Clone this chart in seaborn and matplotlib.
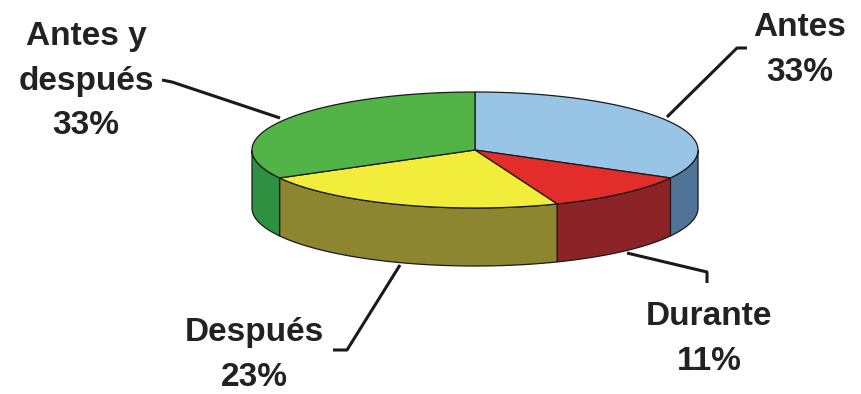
import numpy as np
import matplotlib
matplotlib.use("Agg")
import matplotlib.pyplot as plt
import seaborn as sns
from matplotlib.patches import Polygon

# ---- data ----
categories = ["Antes", "Durante", "Después", "Antes y\ndespués"]
values = [33, 11, 23, 33]
pct_labels = ["33%", "11%", "23%", "33%"]

# ---- styles ----
top_colors = ["#98C4E6", "#E32D2B", "#F2EC3A", "#52B347"]
side_colors = ["#4F7498", "#8C2327", "#8C8630", "#2E9040"]

sns.set_theme(style="white")
plt.rcParams["font.family"] = ["Liberation Sans", "DejaVu Sans"]

W, H = 861, 394
fig = plt.figure(figsize=(W / 100, H / 100), dpi=100)
ax = fig.add_axes([0, 0, 1, 1])
ax.set_xlim(0, W)
ax.set_ylim(H, 0)
ax.axis("off")

# pie geometry (pixel space)
cx, cy, rx, ry, depth = 475, 150, 223, 58, 58


def pt(a, dy=0.0):
    r = np.radians(a)
    return cx + rx * np.cos(r), cy - ry * np.sin(r) + dy


# angles: start at 12 o'clock, clockwise
fracs = np.array(values, dtype=float) / np.sum(values)
starts = 90 - 360 * np.concatenate([[0], np.cumsum(fracs)[:-1]])
ends = starts - 360 * fracs

# side walls (front half: angles in [-180, 0])
for s, e, col in zip(starts, ends, side_colors):
    hi, lo = min(s, 0), max(e, -180)
    if hi > lo:
        aa = np.linspace(hi, lo, 80)
        top = [pt(a) for a in aa]
        bot = [pt(a, depth) for a in aa[::-1]]
        ax.add_patch(Polygon(top + bot, closed=True, facecolor=col,
                             edgecolor="#1a1a1a", linewidth=0.9, zorder=2))

# top wedges
for s, e, col in zip(starts, ends, top_colors):
    aa = np.linspace(s, e, 120)
    poly = [(cx, cy)] + [pt(a) for a in aa]
    ax.add_patch(Polygon(poly, closed=True, facecolor=col,
                         edgecolor="#1a1a1a", linewidth=0.9, zorder=3))

# ---- labels and leader lines (layout) ----
label_xy = [(800, 50), (709, 339), (254, 355), (86, 81)]
leaders = [
    [(667, 117), (737, 48), (747, 48)],
    [(627, 253), (707, 272), (707, 283)],
    [(400, 265), (347, 350), (333, 350)],
    [(280, 118), (172, 82), (162, 80)],
]

for cat, pct, (tx, ty), ld in zip(categories, pct_labels, label_xy, leaders):
    xs, ys = zip(*ld)
    ax.plot(xs, ys, color="#1a1a1a", linewidth=2.2, zorder=4,
            solid_capstyle="butt")
    ax.text(tx, ty, f"{cat}\n{pct}", ha="center", va="center",
            fontsize=24, fontweight="bold", color="#222222",
            linespacing=1.55, zorder=5)

fig.savefig("out.png", dpi=100)
